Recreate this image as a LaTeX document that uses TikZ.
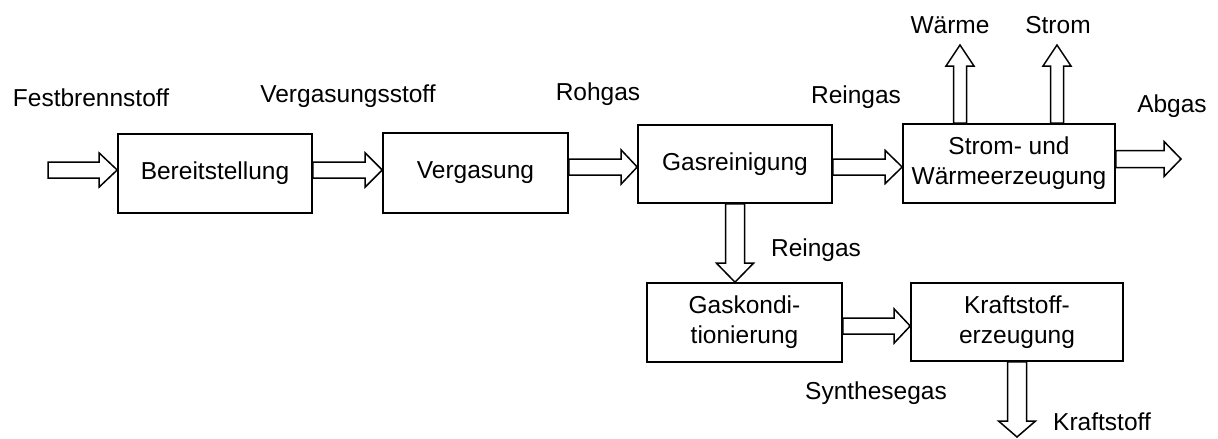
\documentclass[tikz,border=0pt]{standalone}
\usepackage{fontspec}
\setmainfont{Liberation Sans}
\usetikzlibrary{calc}
% hollow block arrow: tail, tip, shaft half width, head half width, head length
\newcommand{\barrow}[5]{%
  \draw[hollowarrow] ($(#1)!#3!90:(#2)$) -- ($(#2)!#5!(#1)!#3!90:(#2)$) -- ($(#2)!#5!(#1)!#4!90:(#2)$) -- (#2) -- ($(#2)!#5!(#1)!#4!-90:(#2)$) -- ($(#2)!#5!(#1)!#3!-90:(#2)$) -- ($(#1)!#3!-90:(#2)$) -- cycle;}
\tikzset{
  box/.style={draw, line width=1.6pt, inner sep=0pt, align=center, font=\fontsize{24.5}{30}\selectfont},
  lbl/.style={inner sep=0pt, font=\fontsize{24.5}{30}\selectfont},
  hollowarrow/.style={draw, line width=1.5pt, fill=white, line join=miter}
}
\begin{document}
\begin{tikzpicture}[x=1pt,y=-1pt]
\useasboundingbox (0,0) rectangle (1218,439);
% boxes
\node[box, minimum width=194pt, minimum height=79pt] (bereit) at (215,173.5) {Bereitstellung};
\node[box, minimum width=185pt, minimum height=80pt] (verg) at (475.5,173) {Vergasung};
\node[box, minimum width=194pt, minimum height=78pt] (rein) at (735,164) {Gasreinigung};
\node[box, minimum width=212pt, minimum height=79pt] (strom) at (1009,163.5) {Strom- und\\Wärmeerzeugung};
\node[box, minimum width=195pt, minimum height=79pt] (kond) at (744.5,322.5) {Gaskondi-\\tionierung};
\node[box, minimum width=212pt, minimum height=78pt] (kraft) at (1017,322) {Kraftstoff-\\erzeugung};
% labels
\node[lbl] (lfest) at (91,98) {Festbrennstoff};
\node[lbl] (lvstoff) at (348,96) {Vergasungsstoff};
\node[lbl] (lroh) at (598,94) {Rohgas};
\node[lbl] (lrein1) at (856,97) {Reingas};
\node[lbl] (lwaerme) at (950,25) {Wärme};
\node[lbl] (lstrom) at (1058,25) {Strom};
\node[lbl] (labgas) at (1172,106) {Abgas};
\node[lbl] (lrein2) at (816,250) {Reingas};
\node[lbl] (lsyn) at (876,393) {Synthesegas};
\node[lbl] (lkraft) at (1102,422) {Kraftstoff};
% arrow end points
\coordinate (s0) at (48,170);
\coordinate (e0) at ($(bereit.west)+(0,-3.5)$);
\coordinate (s1) at ($(bereit.east)+(0,-3.5)$);
\coordinate (e1) at (verg.west |- s1);
\coordinate (s2) at ($(verg.east)+(0,-6)$);
\coordinate (e2) at (rein.west |- s2);
\coordinate (s3) at ($(rein.east)+(0,3)$);
\coordinate (e3) at (strom.west |- s3);
\coordinate (s4) at ($(strom.east)+(0,-4.5)$);
\coordinate (e4) at (1181,159);
\coordinate (s5) at ($(strom.north)+(-49,0)$);
\coordinate (e5) at (960,45);
\coordinate (s6) at ($(strom.north)+(48,0)$);
\coordinate (e6) at (1057,45);
\coordinate (s7) at (rein.south);
\coordinate (e7) at (rein.south |- kond.north);
\coordinate (s8) at ($(kond.east)+(0,3.5)$);
\coordinate (e8) at (kraft.west |- s8);
\coordinate (s9) at (kraft.south);
\coordinate (e9) at (1017,437);
% arrows
\barrow{s0}{e0}{8pt}{17pt}{18pt}
\barrow{s1}{e1}{8pt}{17pt}{17pt}
\barrow{s2}{e2}{8pt}{17pt}{16pt}
\barrow{s3}{e3}{8pt}{16.5pt}{17pt}
\barrow{s4}{e4}{8.5pt}{17.5pt}{17pt}
\barrow{s5}{e5}{6.5pt}{14pt}{21pt}
\barrow{s6}{e6}{6.5pt}{14pt}{21pt}
\barrow{s7}{e7}{9.5pt}{18.5pt}{19pt}
\barrow{s8}{e8}{8pt}{17pt}{16pt}
\barrow{s9}{e9}{9.5pt}{18.5pt}{16pt}
\end{tikzpicture}
\end{document}
